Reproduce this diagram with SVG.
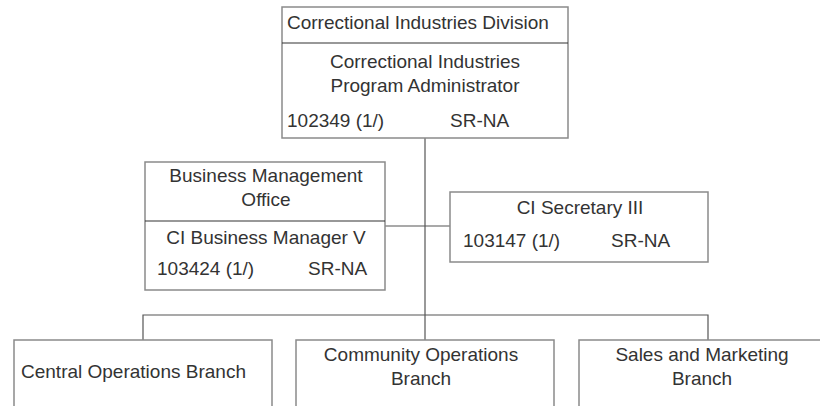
<svg xmlns="http://www.w3.org/2000/svg" width="820" height="406" viewBox="0 0 820 406">
<style>
.box{fill:#fff;stroke:#8a8a8a;stroke-width:1.5}
.div{stroke:#333;stroke-width:1.2}
.con{stroke:#555;stroke-width:1.2;fill:none}
text{font-family:"Liberation Sans",Arial,sans-serif;font-size:19px;fill:#333}
.c{text-anchor:middle}
</style>
<rect width="820" height="406" fill="#fff"/>
<g id="connectors">
<line class="con" x1="425" y1="138" x2="425" y2="315"/>
<line class="con" x1="385" y1="226" x2="450" y2="226"/>
<polyline class="con" points="143,340 143,315 708,315 708,340"/>
<line class="con" x1="425" y1="315" x2="425" y2="340"/>
</g>
<g id="division">
<rect class="box" x="282" y="7" width="286" height="131"/>
<line class="div" x1="282" y1="43" x2="568" y2="43"/>
<text x="287" y="29">Correctional Industries Division</text>
<text class="c" x="425" y="68">Correctional Industries</text>
<text class="c" x="425" y="92">Program Administrator</text>
<text x="287" y="127">102349 (1/)</text>
<text x="450" y="127">SR-NA</text>
</g>
<g id="business">
<rect class="box" x="145" y="162" width="240" height="128"/>
<line class="div" x1="145" y1="221" x2="385" y2="221"/>
<text class="c" x="266" y="182">Business Management</text>
<text class="c" x="266" y="206">Office</text>
<text class="c" x="266" y="244">CI Business Manager V</text>
<text x="157" y="275">103424 (1/)</text>
<text x="308" y="275">SR-NA</text>
</g>
<g id="secretary">
<rect class="box" x="450" y="192" width="258" height="70"/>
<text class="c" x="580" y="214">CI Secretary III</text>
<text x="463" y="247">103147 (1/)</text>
<text x="611" y="247">SR-NA</text>
</g>
<g id="central">
<rect class="box" x="14" y="340" width="258" height="80"/>
<text x="21" y="378">Central Operations Branch</text>
</g>
<g id="community">
<rect class="box" x="296" y="340" width="258" height="80"/>
<text class="c" x="421" y="361">Community Operations</text>
<text class="c" x="421" y="385">Branch</text>
</g>
<g id="sales">
<rect class="box" x="579" y="340" width="258" height="80"/>
<text class="c" x="702" y="361">Sales and Marketing</text>
<text class="c" x="702" y="385">Branch</text>
</g>
</svg>
